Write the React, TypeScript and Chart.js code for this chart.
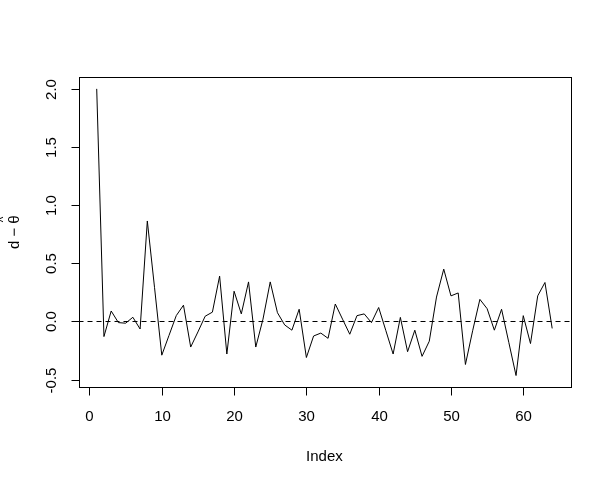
import React, { useEffect, useRef } from "react";
import { Chart, registerables } from "chart.js";

Chart.register(...registerables);

const indexValues: number[] = Array.from({ length: 64 }, (_, i) => i + 1);
const diffValues: number[] = [
  2.0, -0.13, 0.09, -0.01, -0.015, 0.036, -0.065, 0.864, 0.29, -0.29,
  -0.12, 0.05, 0.14, -0.22, -0.09, 0.045, 0.08, 0.39, -0.28, 0.26,
  0.065, 0.34, -0.22, 0.02, 0.34, 0.075, -0.03, -0.075, 0.105, -0.31,
  -0.125, -0.1, -0.145, 0.15, 0.02, -0.11, 0.05, 0.065, -0.01, 0.12,
  -0.08, -0.28, 0.035, -0.26, -0.075, -0.3, -0.17, 0.21, 0.45, 0.22,
  0.245, -0.37, -0.08, 0.19, 0.11, -0.075, 0.105, -0.18, -0.465, 0.05,
  -0.19, 0.22, 0.335, -0.06,
];
const xTicks: number[] = [0, 10, 20, 30, 40, 50, 60];
const yTicks: number[] = [-0.5, 0, 0.5, 1.0, 1.5, 2.0];
const xLabel = "Index";
const yLabelPrefix = "d \u2212 ";
const yLabelSymbol = "\u03B8";
const yLabelAccent = "^";

const FONT = "15px 'Liberation Sans', Arial, sans-serif";

export default function App() {
  const ref = useRef<HTMLCanvasElement | null>(null);
  useEffect(() => {
    if (!ref.current) return;
    const n = indexValues.length;
    const xr = (indexValues[n - 1] - indexValues[0]) * 0.04;
    const ymin = Math.min(...diffValues);
    const ymax = Math.max(...diffValues);
    const yr = (ymax - ymin) * 0.04;

    const rAxes = {
      id: "rAxes",
      afterDraw(chart: any) {
        const ctx = chart.ctx;
        const a = chart.chartArea;
        const xs = chart.scales.x;
        const ys = chart.scales.y;
        ctx.save();
        ctx.strokeStyle = "#000";
        ctx.lineWidth = 1;
        ctx.setLineDash([5, 4]);
        const y0 = Math.round(ys.getPixelForValue(0)) + 0.5;
        ctx.beginPath();
        ctx.moveTo(a.left, y0);
        ctx.lineTo(a.right, y0);
        ctx.stroke();
        ctx.setLineDash([]);
        ctx.strokeRect(Math.round(a.left) + 0.5, Math.round(a.top) + 0.5, Math.round(a.right - a.left), Math.round(a.bottom - a.top));
        ctx.fillStyle = "#000";
        ctx.font = FONT;
        const bottom = Math.round(a.bottom) + 0.5;
        ctx.textAlign = "center";
        ctx.textBaseline = "middle";
        for (const t of xTicks) {
          const px = Math.round(xs.getPixelForValue(t)) + 0.5;
          ctx.beginPath();
          ctx.moveTo(px, bottom);
          ctx.lineTo(px, bottom + 8);
          ctx.stroke();
          ctx.fillText(String(t), px, bottom + 29);
        }
        ctx.fillText(xLabel, (a.left + a.right) / 2, bottom + 69);
        const left = Math.round(a.left) + 0.5;
        for (const t of yTicks) {
          const py = Math.round(ys.getPixelForValue(t)) + 0.5;
          ctx.beginPath();
          ctx.moveTo(left, py);
          ctx.lineTo(left - 8, py);
          ctx.stroke();
          ctx.save();
          ctx.translate(left - 28, py);
          ctx.rotate(-Math.PI / 2);
          ctx.fillText(t.toFixed(1), 0, 0);
          ctx.restore();
        }
        // y label with hat
        ctx.save();
        ctx.translate(left - 65, (a.top + a.bottom) / 2);
        ctx.rotate(-Math.PI / 2);
        const wPre = ctx.measureText(yLabelPrefix).width;
        const wSym = ctx.measureText(yLabelSymbol).width;
        const total = wPre + wSym;
        ctx.textAlign = "left";
        ctx.fillText(yLabelPrefix, -total / 2, 0);
        ctx.fillText(yLabelSymbol, -total / 2 + wPre, 0);
        ctx.textAlign = "center";
        ctx.font = "12px 'Liberation Sans', Arial, sans-serif";
        ctx.fillText(yLabelAccent, -total / 2 + wPre + wSym / 2, -11);
        ctx.restore();
        ctx.restore();
      },
    };

    const chart = new Chart(ref.current, {
      type: "line",
      data: {
        datasets: [
          {
            data: indexValues.map((x, i) => ({ x, y: diffValues[i] })),
            borderColor: "#000",
            borderWidth: 1,
            pointRadius: 0,
            tension: 0,
            fill: false,
          },
        ],
      },
      options: {
        animation: false,
        responsive: false,
        events: [],
        layout: { padding: { left: 78.5, right: 40.6, top: 77.4, bottom: 97 } },
        plugins: { legend: { display: false }, tooltip: { enabled: false } },
        scales: {
          x: { type: "linear", display: false, min: indexValues[0] - xr, max: indexValues[n - 1] + xr },
          y: { type: "linear", display: false, min: ymin - yr, max: ymax + yr },
        },
      },
      plugins: [rAxes],
    });
    return () => chart.destroy();
  }, []);
  return (
    <div style={{ position: "fixed", left: 0, top: 0, width: 611, height: 484, background: "#fff" }}>
      <canvas ref={ref} width={611} height={484} style={{ width: 611, height: 484 }} />
    </div>
  );
}
